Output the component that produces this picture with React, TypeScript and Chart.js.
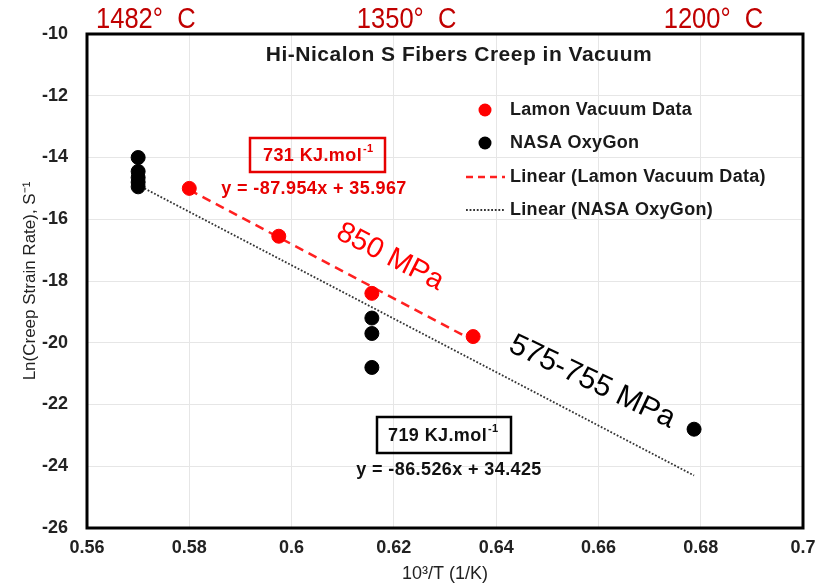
import React, { useEffect, useRef } from "react";
import { Chart, registerables } from "chart.js";

Chart.register(...registerables);

// ---------- data ----------
const lamonX = [0.58, 0.5975, 0.6157, 0.6355];
const lamonY = [-15.0, -16.55, -18.4, -19.8];

const nasaX = [0.57, 0.57, 0.57, 0.57, 0.57, 0.6157, 0.6157, 0.6157, 0.6787];
const nasaY = [-14.0, -14.45, -14.65, -14.8, -14.95, -19.2, -19.7, -20.8, -22.8];

// printed trendline equations: [slope, intercept]
const lamonFit = [-87.954, 35.967];
const nasaFit = [-86.526, 34.425];
const lamonFitRange = [0.58, 0.6355];
const nasaFitRange = [0.57, 0.6787];

const xTicks = [0.56, 0.58, 0.6, 0.62, 0.64, 0.66, 0.68, 0.7];
const yTicks = [-26, -24, -22, -20, -18, -16, -14, -12, -10];

const tempLabels = ["1482°  C", "1350°  C", "1200°  C"];
const tempLabelX = [0.5715, 0.6225, 0.6825];

const SANS = "'Liberation Sans', Arial, sans-serif";

const fitLine = (fit: number[], range: number[]) =>
  range.map((x) => ({ x, y: fit[0] * x + fit[1] }));

export default function App() {
  const ref = useRef<HTMLCanvasElement | null>(null);
  useEffect(() => {
    if (!ref.current) return;

    const annotations = {
      id: "annotations",
      afterDraw(chart: any) {
        const ctx = chart.ctx as CanvasRenderingContext2D & { letterSpacing?: string };
        const xs = chart.scales.x;
        const area = chart.chartArea;
        ctx.save();
        // plot border
        ctx.strokeStyle = "#000";
        ctx.lineWidth = 3;
        ctx.strokeRect(area.left, area.top, area.right - area.left, area.bottom - area.top);

        ctx.textAlign = "center";
        ctx.textBaseline = "middle";

        // title
        ctx.fillStyle = "#1a1a1a";
        ctx.font = `bold 21px ${SANS}`;
        ctx.letterSpacing = "0.5px";
        ctx.fillText("Hi-Nicalon S Fibers Creep in Vacuum", 459, 55);
        ctx.letterSpacing = "0px";

        // temperature labels (narrow)
        ctx.fillStyle = "#c00000";
        ctx.font = `29px ${SANS}`;
        tempLabels.forEach((t, i) => {
          ctx.save();
          ctx.translate(xs.getPixelForValue(tempLabelX[i]), 20);
          ctx.scale(0.88, 1);
          ctx.fillText(t, 0, 0);
          ctx.restore();
        });

        // legend
        const lx = 485;
        const ly = [110, 143, 177, 210];
        ctx.font = `bold 18px ${SANS}`;
        ctx.letterSpacing = "0.3px";
        ctx.textAlign = "left";
        ctx.fillStyle = "#1a1a1a";
        const labels = chart.data.datasets.map((d: any) => d.label);
        labels.forEach((l: string, i: number) => ctx.fillText(l, 510, ly[i]));
        ctx.letterSpacing = "0px";
        ctx.fillStyle = "#ff0000";
        ctx.beginPath();
        ctx.arc(lx, ly[0], 6.5, 0, Math.PI * 2);
        ctx.fill();
        ctx.fillStyle = "#000";
        ctx.beginPath();
        ctx.arc(lx, ly[1], 6.5, 0, Math.PI * 2);
        ctx.fill();
        ctx.strokeStyle = "#ff2020";
        ctx.lineWidth = 2.5;
        ctx.setLineDash([7, 5]);
        ctx.beginPath();
        ctx.moveTo(466, ly[2]);
        ctx.lineTo(505, ly[2]);
        ctx.stroke();
        ctx.strokeStyle = "#333";
        ctx.lineWidth = 1.8;
        ctx.setLineDash([1.8, 1.8]);
        ctx.beginPath();
        ctx.moveTo(466, ly[3]);
        ctx.lineTo(505, ly[3]);
        ctx.stroke();
        ctx.setLineDash([]);

        // red box + equation
        ctx.textAlign = "left";
        ctx.strokeStyle = "#e60000";
        ctx.lineWidth = 2.5;
        ctx.strokeRect(250, 138, 135, 34);
        ctx.fillStyle = "#e60000";
        ctx.font = `bold 18px ${SANS}`;
        ctx.letterSpacing = "0.4px";
        ctx.fillText("731 KJ.mol", 263, 156);
        let w = ctx.measureText("731 KJ.mol").width;
        ctx.font = `bold 11px ${SANS}`;
        ctx.fillText("-1", 263 + w + 1, 149);
        ctx.font = `bold 18px ${SANS}`;
        ctx.textAlign = "center";
        ctx.fillText("y = -87.954x + 35.967", 314, 189);

        // black box + equation
        ctx.textAlign = "left";
        ctx.strokeStyle = "#000";
        ctx.strokeRect(377, 417, 134, 36);
        ctx.fillStyle = "#111";
        ctx.fillText("719 KJ.mol", 388, 436);
        w = ctx.measureText("719 KJ.mol").width;
        ctx.font = `bold 11px ${SANS}`;
        ctx.fillText("-1", 388 + w + 1, 429);
        ctx.font = `bold 18px ${SANS}`;
        ctx.textAlign = "center";
        ctx.fillText("y = -86.526x + 34.425", 449, 470);
        ctx.letterSpacing = "0px";

        // rotated stress labels
        ctx.save();
        ctx.translate(390, 257);
        ctx.rotate((27 * Math.PI) / 180);
        ctx.fillStyle = "#ff0000";
        ctx.font = `29px ${SANS}`;
        ctx.fillText("850 MPa", 0, 0);
        ctx.restore();
        ctx.save();
        ctx.translate(592, 382);
        ctx.rotate((25.5 * Math.PI) / 180);
        ctx.fillStyle = "#000";
        ctx.font = `30px ${SANS}`;
        ctx.fillText("575-755 MPa", 0, 0);
        ctx.restore();

        ctx.restore();
      },
    };

    const chart = new Chart(ref.current, {
      type: "scatter",
      data: {
        datasets: [
          {
            label: "Lamon Vacuum Data",
            data: lamonX.map((x, i) => ({ x, y: lamonY[i] })),
            backgroundColor: "#ff0000",
            borderColor: "#ff0000",
            pointRadius: 7,
            order: 1,
          },
          {
            label: "NASA OxyGon",
            data: nasaX.map((x, i) => ({ x, y: nasaY[i] })),
            backgroundColor: "#000",
            borderColor: "#000",
            pointRadius: 7,
            order: 2,
          },
          {
            label: "Linear (Lamon Vacuum Data)",
            data: fitLine(lamonFit, lamonFitRange),
            showLine: true,
            borderColor: "#ff2020",
            borderWidth: 2.5,
            borderDash: [9, 6],
            pointRadius: 0,
            order: 3,
          },
          {
            label: "Linear (NASA OxyGon)",
            data: fitLine(nasaFit, nasaFitRange),
            showLine: true,
            borderColor: "#333",
            borderWidth: 1.8,
            borderDash: [1.8, 1.8],
            pointRadius: 0,
            order: 4,
          },
        ],
      },
      options: {
        animation: false,
        responsive: false,
        layout: { padding: { top: 34, right: 22, left: 0, bottom: 0 } },
        plugins: { legend: { display: false }, tooltip: { enabled: false } },
        scales: {
          x: {
            type: "linear",
            min: 0.56,
            max: 0.7,
            afterBuildTicks: (s: any) => {
              s.ticks = xTicks.map((v) => ({ value: v }));
            },
            afterFit: (s: any) => {
              s.height = 59;
            },
            grid: { color: "#e6e6e6", lineWidth: 1, drawTicks: false },
            border: { display: false },
            ticks: {
              padding: 9,
              color: "#222",
              font: { family: SANS, size: 18, weight: "bold" },
              callback: (v: any) => String(Number(v)),
            },
            title: {
              display: true,
              text: "10³/T (1/K)",
              color: "#222",
              font: { family: SANS, size: 18 },
              padding: { top: 0, bottom: 2 },
            },
          },
          y: {
            type: "linear",
            min: -26,
            max: -10,
            afterBuildTicks: (s: any) => {
              s.ticks = yTicks.map((v) => ({ value: v }));
            },
            afterFit: (s: any) => {
              s.width = 87;
            },
            grid: { color: "#e6e6e6", lineWidth: 1, drawTicks: false },
            border: { display: false },
            ticks: {
              padding: 19,
              color: "#222",
              font: { family: SANS, size: 18, weight: "bold" },
            },
            title: {
              display: true,
              text: "Ln(Creep Strain Rate), S⁻¹",
              color: "#222",
              font: { family: SANS, size: 17 },
              padding: { top: 20, bottom: 0 },
            },
          },
        },
      },
      plugins: [annotations],
    } as any);
    return () => chart.destroy();
  }, []);

  return (
    <div style={{ position: "fixed", left: 0, top: 0, width: 825, height: 587, background: "#fff" }}>
      <canvas ref={ref} width={825} height={587} style={{ width: 825, height: 587, display: "block" }} />
    </div>
  );
}
